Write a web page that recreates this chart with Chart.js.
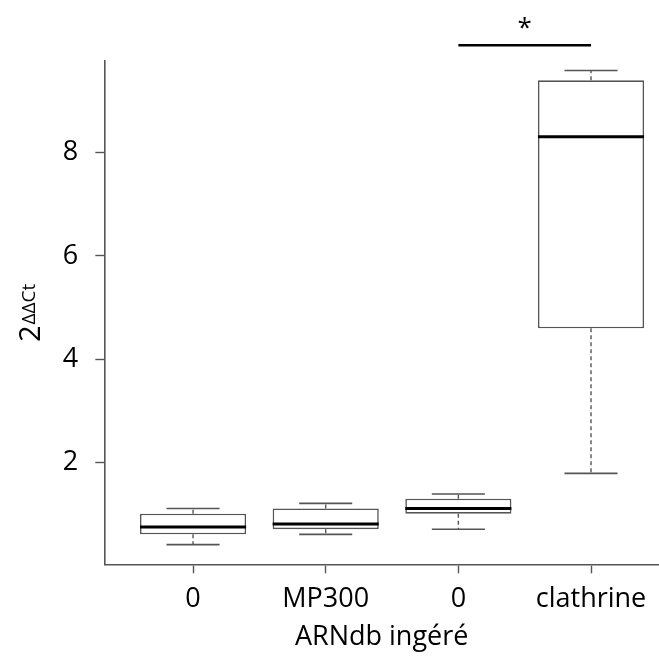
<!DOCTYPE html>
<html>
<head>
<meta charset="utf-8">
<script src="https://cdn.jsdelivr.net/npm/chart.js@4/dist/chart.umd.min.js"></script>
<style>
  html, body { margin: 0; padding: 0; background: #fff; }
  #wrap { width: 659px; height: 659px; }
</style>
</head>
<body>
<div id="wrap"><canvas id="chart" width="659" height="659"></canvas></div>
<script>
// box plot values
const categories = ['0', 'MP300', '0', 'clathrine'];
const lowerWhisker = [0.41, 0.61, 0.71, 1.79];
const q1 = [0.61, 0.71, 1.01, 4.60];
const median = [0.75, 0.81, 1.11, 8.31];
const q3 = [1.01, 1.11, 1.30, 9.40];
const upperWhisker = [1.11, 1.21, 1.39, 9.59];
const yTicks = [2, 4, 6, 8];

// significance bar between group 3 and 4
const sigFrom = 3;
const sigTo = 4;
const sigLevel = 10.08;
const sigLabel = '*';

const FONT = '"Open Sans", "DejaVu Sans", sans-serif';
const positions = categories.map((c, i) => i + 1);

// build segment lists, null y = break in the line
function hSegments(values, half) {
  const pts = [];
  positions.forEach((p, i) => {
    pts.push({ x: p - half, y: values[i] }, { x: p + half, y: values[i] }, { x: p + half, y: null });
  });
  return pts;
}
function vSegments(from, to) {
  const pts = [];
  positions.forEach((p, i) => {
    pts.push({ x: p, y: from[i] }, { x: p, y: to[i] }, { x: p, y: null });
  });
  return pts;
}

const lineBase = { type: 'line', pointRadius: 0, spanGaps: false, tension: 0, fill: false };

const yTitlePlugin = {
  id: 'yTitle',
  afterDraw(chart) {
    const ctx = chart.ctx;
    ctx.save();
    ctx.translate(40, 342);
    ctx.rotate(-Math.PI / 2);
    ctx.fillStyle = '#000';
    ctx.textBaseline = 'alphabetic';
    ctx.font = '29px ' + FONT;
    ctx.fillText('2', 0, 0);
    const w = ctx.measureText('2').width;
    ctx.font = '19px ' + FONT;
    ctx.fillText('\u0394\u0394Ct', w + 1, -5);
    ctx.restore();
  }
};

const starPlugin = {
  id: 'star',
  afterDraw(chart) {
    const { ctx, scales } = chart;
    ctx.save();
    ctx.fillStyle = '#000';
    ctx.font = '26px ' + FONT;
    ctx.textAlign = 'center';
    ctx.textBaseline = 'middle';
    ctx.fillText(sigLabel, scales.x.getPixelForValue((sigFrom + sigTo) / 2), scales.y.getPixelForValue(sigLevel) - 17);
    ctx.restore();
  }
};

new Chart(document.getElementById('chart'), {
  type: 'bar',
  data: {
    datasets: [
      { ...lineBase, data: hSegments(median, 0.4), borderColor: '#000', borderWidth: 3 },
      { ...lineBase, data: hSegments(upperWhisker, 0.2), borderColor: '#555', borderWidth: 1.6 },
      { ...lineBase, data: hSegments(lowerWhisker, 0.2), borderColor: '#555', borderWidth: 1.6 },
      { ...lineBase, data: vSegments(q3, upperWhisker), borderColor: '#555', borderWidth: 1.4, borderDash: [4, 3] },
      { ...lineBase, data: vSegments(q1, lowerWhisker), borderColor: '#555', borderWidth: 1.4, borderDash: [4, 3] },
      { ...lineBase, data: [{ x: sigFrom, y: sigLevel }, { x: sigTo, y: sigLevel }], borderColor: '#000', borderWidth: 2.5, clip: false },
      {
        type: 'bar',
        data: positions.map((p, i) => ({ x: p, y: [q1[i], q3[i]] })),
        backgroundColor: '#fff',
        borderColor: '#555',
        borderWidth: 1.6,
        borderSkipped: false,
        barPercentage: 0.8,
        categoryPercentage: 1
      }
    ]
  },
  options: {
    responsive: false,
    animation: false,
    layout: { padding: { top: 60.7, left: 0, right: 0, bottom: 0 } },
    plugins: { legend: { display: false }, tooltip: { enabled: false } },
    scales: {
      x: {
        type: 'linear',
        offset: false,
        min: 0.331,
        max: 4.5125,
        afterBuildTicks: (scale) => { scale.ticks = positions.map(v => ({ value: v })); },
        afterFit: (scale) => { scale.height = 94.7; },
        ticks: {
          callback: (v) => categories[v - 1],
          font: { family: FONT, size: 27 },
          color: '#000',
          padding: 10,
          autoSkip: false,
          maxRotation: 0
        },
        grid: { offset: false, drawOnChartArea: false, tickLength: 9, tickColor: '#555', tickWidth: 1.4 },
        border: { display: true, color: '#555', width: 1.6 },
        title: { display: true, text: 'ARNdb ingéré', font: { family: FONT, size: 27 }, color: '#000', padding: { top: 0, bottom: 5 } }
      },
      y: {
        type: 'linear',
        min: 0.03,
        max: 9.78,
        afterBuildTicks: (scale) => { scale.ticks = yTicks.map(v => ({ value: v })); },
        afterFit: (scale) => { scale.width = 104.3; },
        ticks: {
          font: { family: FONT, size: 27 },
          color: '#000',
          padding: 17
        },
        grid: { drawOnChartArea: false, tickLength: 9, tickColor: '#555', tickWidth: 1.4 },
        border: { display: true, color: '#555', width: 1.6 }
      }
    }
  },
  plugins: [yTitlePlugin, starPlugin]
});
</script>
</body>
</html>
